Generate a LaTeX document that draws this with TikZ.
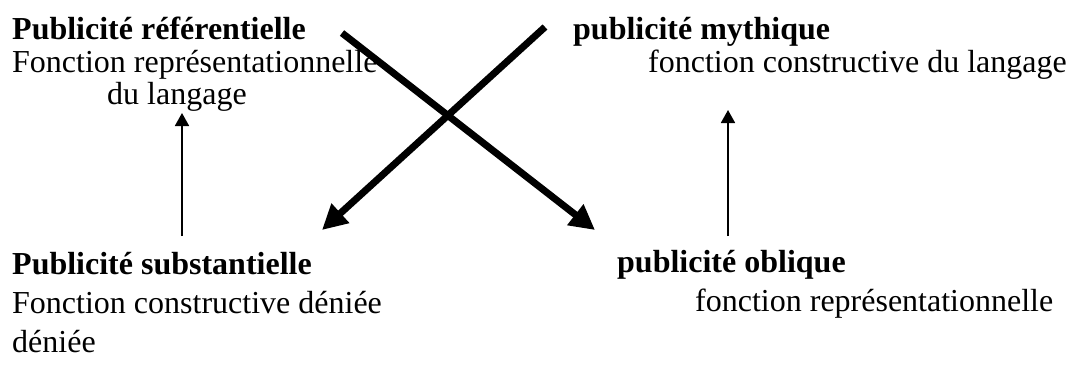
\documentclass[tikz,border=0pt]{standalone}
\usepackage{fontspec}
\setmainfont{Liberation Serif}
\usetikzlibrary{arrows.meta}
\begin{document}
\begin{tikzpicture}[x=1pt,y=-1pt,
  txt/.style={anchor=base west,inner sep=0pt,font=\fontsize{32}{36}\selectfont},
  ttl/.style={txt,font=\fontsize{32}{36}\selectfont\bfseries},
  cross/.style={line width=7pt,-{Triangle[length=25pt,width=25pt]}},
  up/.style={line width=1.8pt,-{Triangle[length=13pt,width=14pt]}}]
\useasboundingbox (0,0) rectangle (1077,367);
% top left
\node[ttl] (ref) at (12,39) {Publicité référentielle};
\node[txt] (refa) at (12,72) {Fonction représentationnelle};
\node[txt] (refb) at (107,104) {du langage};
% top right
\node[ttl] (myth) at (573,39) {publicité mythique};
\node[txt] (mytha) at (648,72) {fonction constructive du langage};
% bottom left
\node[ttl] (sub) at (12,274) {Publicité substantielle};
\node[txt] (suba) at (12,313) {Fonction constructive déniée};
\node[txt] (subb) at (12,352) {déniée};
% bottom right
\node[ttl] (obl) at (617,272) {publicité oblique};
\node[txt] (obla) at (695,311) {fonction représentationnelle};
% arrow ends
\coordinate (c1s) at (342,33);
\coordinate (c1e) at (595,230);
\coordinate (c2s) at (545,27);
\coordinate (c2e) at (322,230);
\coordinate (l1s) at (182,236);
\coordinate (l1e) at (182,113);
\coordinate (r1s) at (728,236);
\coordinate (r1e) at (728,110);
\draw[cross] (c1s) -- (c1e);
\draw[cross] (c2s) -- (c2e);
\draw[up] (l1s) -- (l1e);
\draw[up] (r1s) -- (r1e);
\end{tikzpicture}
\end{document}
